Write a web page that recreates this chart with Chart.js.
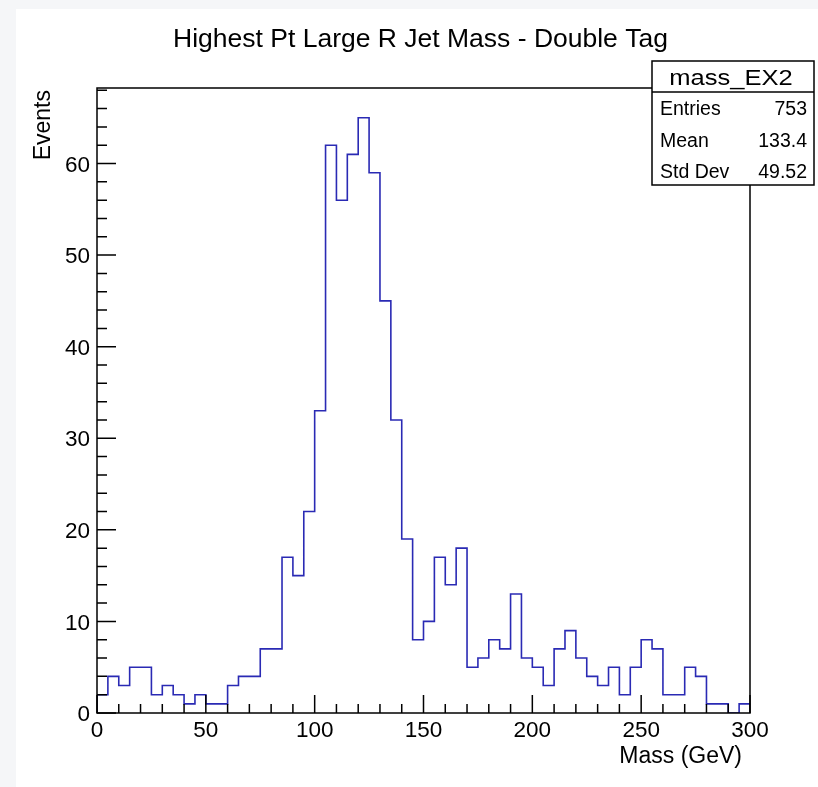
<!DOCTYPE html>
<html><head><meta charset="utf-8">
<script src="https://cdn.jsdelivr.net/npm/chart.js@4.4.0/dist/chart.umd.min.js"></script>
<style>
html,body{margin:0;padding:0;background:#f5f6f8;width:818px;height:787px;overflow:hidden;}
#wrap{position:absolute;left:16px;top:9px;width:802px;height:778px;background:#ffffff;}
canvas{display:block;}
</style></head><body>
<div id="wrap"><canvas id="c" width="802" height="778"></canvas></div>
<script>
// ---- data ----
const chartTitle = 'Highest Pt Large R Jet Mass - Double Tag';
const xAxisTitle = 'Mass (GeV)';
const yAxisTitle = 'Events';
const histName = 'mass_EX2';
const statLabels = ['Entries', 'Mean', 'Std Dev'];
const statValues = ['753', '133.4', '49.52'];
const xMin = 0, xMax = 300, binWidth = 5;
const yMin = 0, yMax = 68.25;
const xTickStep = 50, xMinorStep = 10;
const yTickStep = 10, yMinorStep = 2;
const counts = [2,4,3,5,5,2,3,2,1,2,1,1,3,4,4,7,7,17,15,22,
                33,62,56,61,65,59,45,32,19,8,10,17,14,18,5,6,8,7,13,6,
                5,3,7,9,6,4,3,5,2,5,8,7,2,2,5,4,1,1,0,1];

// ---- build outline points (lower bin edges) ----
const outline = [{x: xMin, y: 0}];
counts.forEach((c, i) => outline.push({x: xMin + i * binWidth, y: c}));
outline.push({x: xMax, y: counts[counts.length - 1]});
outline.push({x: xMax, y: 0});

const FONT = '"Liberation Sans", Arial, Helvetica, sans-serif';

const rootDecor = {
  id: 'rootDecor',
  afterDatasetsDraw(chart) {
    const {ctx, chartArea: a, scales: {x, y}} = chart;
    ctx.save();
    ctx.strokeStyle = '#000';
    ctx.lineWidth = 1.5;
    ctx.beginPath();
    for (let v = xMin; v <= xMax; v += xMinorStep) {
      const px = x.getPixelForValue(v);
      const len = (v % xTickStep === 0) ? 18 : 9;
      ctx.moveTo(px, a.bottom); ctx.lineTo(px, a.bottom - len);
    }
    for (let v = yMin; v <= yMax; v += yMinorStep) {
      const py = y.getPixelForValue(v);
      const len = (v % yTickStep === 0) ? 19 : 10;
      ctx.moveTo(a.left, py); ctx.lineTo(a.left + len, py);
    }
    ctx.stroke();
    ctx.strokeRect(a.left, a.top, a.right - a.left, a.bottom - a.top);
    ctx.restore();
  },
  afterDraw(chart) {
    const {ctx, chartArea: a} = chart;
    ctx.save();
    ctx.fillStyle = '#000';
    ctx.textBaseline = 'alphabetic';
    // main title
    ctx.font = '26.5px ' + FONT;
    ctx.textAlign = 'center';
    ctx.fillText(chartTitle, (a.left + a.right) / 2 - 3, a.top - 41);
    // y axis title (rotated, aligned to top)
    ctx.save();
    ctx.translate(34, a.top + 2);
    ctx.rotate(-Math.PI / 2);
    ctx.font = '23px ' + FONT;
    ctx.textAlign = 'right';
    ctx.fillText(yAxisTitle, 0, 0);
    ctx.restore();
    // x axis title (aligned right)
    ctx.font = '23px ' + FONT;
    ctx.textAlign = 'right';
    ctx.fillText(xAxisTitle, a.right - 8, a.bottom + 50);
    // stats box
    const bl = a.right - 98, br = a.right + 64, bt = a.top - 27, bb = a.top + 97;
    ctx.fillStyle = '#fff';
    ctx.fillRect(bl, bt, br - bl, bb - bt);
    ctx.strokeStyle = '#000';
    ctx.lineWidth = 1.5;
    ctx.strokeRect(bl, bt, br - bl, bb - bt);
    ctx.beginPath();
    ctx.moveTo(bl, a.top + 4); ctx.lineTo(br, a.top + 4);
    ctx.stroke();
    ctx.fillStyle = '#000';
    ctx.save();
    ctx.translate(bl + 79, a.top - 3);
    ctx.scale(1.16, 1);
    ctx.font = '22px ' + FONT;
    ctx.textAlign = 'center';
    ctx.fillText(histName, 0, 0);
    ctx.restore();
    ctx.font = '19.5px ' + FONT;
    const rowBase = [a.top + 27, a.top + 59, a.top + 90];
    statLabels.forEach((lab, i) => {
      ctx.textAlign = 'left';
      ctx.fillText(lab, bl + 8, rowBase[i]);
      ctx.textAlign = 'right';
      ctx.fillText(statValues[i], br - 7, rowBase[i]);
    });
    ctx.restore();
  }
};

new Chart(document.getElementById('c'), {
  type: 'line',
  data: {
    datasets: [{
      label: histName,
      data: outline,
      stepped: 'before',
      borderColor: '#2a2ab4',
      borderWidth: 1.6,
      pointRadius: 0,
      fill: false,
      tension: 0
    }]
  },
  options: {
    responsive: false,
    animation: false,
    devicePixelRatio: 1,
    layout: {padding: {left: 0, right: 68, top: 79, bottom: 0}},
    plugins: {
      legend: {display: false},
      tooltip: {enabled: false},
      title: {display: false}
    },
    scales: {
      x: {
        type: 'linear',
        min: xMin, max: xMax,
        grid: {display: false, drawTicks: false},
        border: {display: false},
        ticks: {stepSize: xTickStep, color: '#000', font: {family: FONT, size: 22.5}, padding: 4, maxRotation: 0},
        afterFit(s) { s.height = 74; }
      },
      y: {
        type: 'linear',
        min: yMin, max: yMax,
        grid: {display: false, drawTicks: false},
        border: {display: false},
        ticks: {stepSize: yTickStep, color: '#000', font: {family: FONT, size: 22.5}, padding: 7, labelOffset: 2},
        afterBuildTicks(s) { s.ticks = s.ticks.filter(t => t.value % yTickStep === 0); },
        afterFit(s) { s.width = 81; }
      }
    }
  },
  plugins: [rootDecor]
});
</script>
</body></html>
